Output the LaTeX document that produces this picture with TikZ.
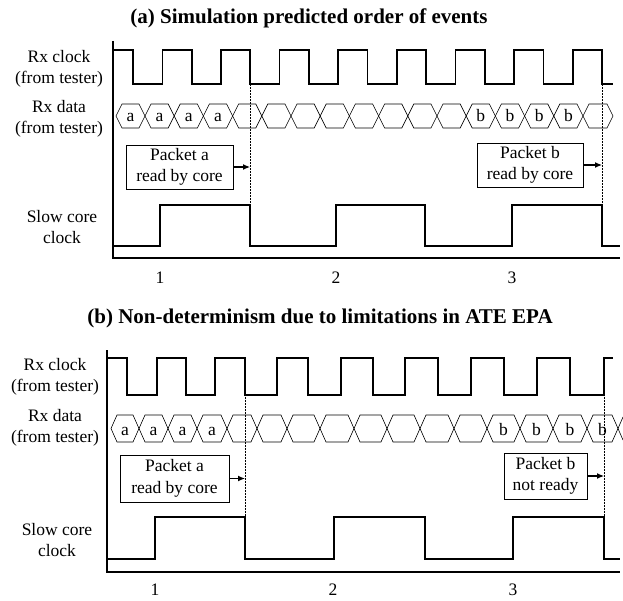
\documentclass[tikz,border=0pt]{standalone}
\usepackage{fontspec}
\setmainfont{Liberation Serif}
\usetikzlibrary{arrows.meta}
\begin{document}
\begin{tikzpicture}[x=1pt,y=-1pt,
  wave/.style={line width=1.3pt, line join=miter},
  hexline/.style={line width=0.6pt},
  axisline/.style={line width=1.3pt, line join=miter},
  guide/.style={densely dotted, line width=0.5pt},
  lbl/.style={font=\fontsize{17.5}{21}\selectfont, align=center, inner sep=0pt},
  ttl/.style={font=\fontsize{21}{25}\selectfont\bfseries, inner sep=0pt, anchor=base},
  msgbox/.style={draw, line width=0.7pt, font=\fontsize{17.5}{21.5}\selectfont, align=center, inner sep=0pt},
  ptr/.style={-{Latex[length=7pt,width=6pt]}, line width=1.2pt},
  datalbl/.style={font=\fontsize{17.5}{21}\selectfont, inner sep=0pt, anchor=base},
  tick/.style={font=\fontsize{17.5}{21}\selectfont, inner sep=0pt}
]
\useasboundingbox (0,0) rectangle (623,601);

% ================= panel (a) =================
\node[ttl] (ta) at (309,24) {(a) Simulation predicted order of events};
\node[lbl] (la1) at (59,69) {Rx clock\\(from tester)};
\node[lbl] (la2) at (59,119) {Rx data\\(from tester)};
\node[lbl] (la3) at (62,227) {Slow core\\clock};

\draw[axisline] (113,41) -- (113,258) -- (620,258);

\draw[wave] (113,50) -| (133,84) -| (162.5,50) -| (192,84) -| (221,50) -| (250,84)
  -| (279.5,50) -| (309,84) -| (338,50) -| (367.5,84) -| (397,50) -| (426,84)
  -| (455.5,50) -| (485,84) -| (514,50) -| (543.5,84) -| (573,50) -| (602,84) -- (613,84);

\foreach \xa/\xb in {116/145, 145/174.2, 174.2/203.4, 203.4/232.6, 232.6/261.8,
  261.8/291, 291/320.2, 320.2/349.4, 349.4/378.6, 378.6/407.8, 407.8/437,
  437/466.2, 466.2/495.4, 495.4/524.6, 524.6/553.8, 553.8/583, 583/613}
  \draw[hexline] (\xa,116) -- ({\xa+6},104) -- ({\xb-6},104) -- (\xb,116)
    -- ({\xb-6},128) -- ({\xa+6},128) -- cycle;
\foreach \xa/\xb/\n in {116/145/1, 145/174.2/2, 174.2/203.4/3, 203.4/232.6/4}
  \node[datalbl] (da\n) at ({(\xa+\xb)/2},122) {a};
\foreach \xa/\xb/\n in {466.2/495.4/1, 495.4/524.6/2, 524.6/553.8/3, 553.8/583/4}
  \node[datalbl] (db\n) at ({(\xa+\xb)/2},122) {b};

\draw[wave] (113,246) -| (160,205) -| (250,246) -| (336,205) -| (425,246)
  -| (512,205) -| (602,246) -- (620,246);

\coordinate (ga1) at (250,84);
\coordinate (ga2) at (250,205);
\coordinate (gb1) at (602,84);
\coordinate (gb2) at (602,205);
\draw[guide] (ga1) -- (ga2);
\draw[guide] (gb1) -- (gb2);

\node[msgbox, minimum width=107pt, minimum height=44pt] (pa) at (179.5,167) {Packet a\\read by core};
\node[msgbox, minimum width=106pt, minimum height=44pt] (pb) at (530,165) {Packet b\\read by core};
\draw[ptr] (pa.east) -- (pa.east -| ga1);
\draw[ptr] (pb.east) -- (pb.east -| gb1);

\node[tick] (n1a) at (160,278) {1};
\node[tick] (n2a) at (336,278) {2};
\node[tick] (n3a) at (512,278) {3};

% ================= panel (b) =================
\node[ttl] (tb) at (320,323) {(b) Non-determinism due to limitations in ATE EPA};
\node[lbl] (lb1) at (55,377) {Rx clock\\(from tester)};
\node[lbl] (lb2) at (55,428) {Rx data\\(from tester)};
\node[lbl] (lb3) at (57,540) {Slow core\\clock};

\draw[axisline] (107,350) -- (107,572) -- (620,572);

\draw[wave] (107,358) -| (127,395) -| (157,358) -| (186,395) -| (215,358) -| (245,395)
  -| (277,358) -| (308,395) -| (341,358) -| (373,395) -| (405,358) -| (438,395)
  -| (471,358) -| (504,395) -| (537,358) -| (570,395) -| (604,358) -- (613,358);

\foreach \xa/\xb in {111/139, 139/168, 168/197, 197/227, 227/257, 257/287,
  287/320, 320/354, 354/387, 387/420, 420/454, 454/487, 487/520, 520/553,
  553/587, 587/618}
  \draw[hexline] (\xa,428.5) -- ({\xa+6},415) -- ({\xb-6},415) -- (\xb,428.5)
    -- ({\xb-6},442) -- ({\xa+6},442) -- cycle;
\draw[hexline] (623,417) -- (618,428.5) -- (623,440);
\foreach \xa/\xb/\n in {111/139/1, 139/168/2, 168/197/3, 197/227/4}
  \node[datalbl] (ea\n) at ({(\xa+\xb)/2},435) {a};
\foreach \xa/\xb/\n in {487/520/1, 520/553/2, 553/587/3, 587/618/4}
  \node[datalbl] (eb\n) at ({(\xa+\xb)/2},435) {b};

\draw[wave] (107,559) -| (155,517) -| (245,559) -| (334,517) -| (425,559)
  -| (513,517) -| (604,559) -- (620,559);

\coordinate (ha1) at (245,395);
\coordinate (ha2) at (245,517);
\coordinate (hb1) at (604,395);
\coordinate (hb2) at (604,517);
\draw[guide] (ha1) -- (ha2);
\draw[guide] (hb1) -- (hb2);

\node[msgbox, minimum width=109pt, minimum height=47pt] (qa) at (174.5,478.5) {Packet a\\read by core};
\node[msgbox, minimum width=83pt, minimum height=46pt] (qb) at (545.5,476) {Packet b\\not ready};
\draw[ptr] (qa.east) -- (qa.east -| ha1);
\draw[ptr] (qb.east) -- (qb.east -| hb1);

\node[tick] (n1b) at (155,590) {1};
\node[tick] (n2b) at (333,590) {2};
\node[tick] (n3b) at (513,590) {3};
\end{tikzpicture}
\end{document}
